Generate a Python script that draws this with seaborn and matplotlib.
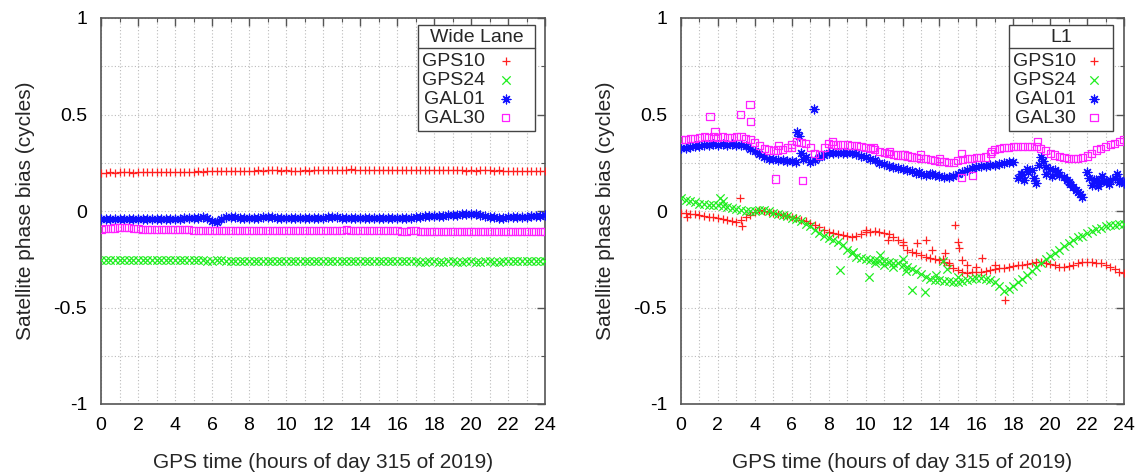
import numpy as np
import pandas as pd
import matplotlib
matplotlib.use("Agg")
import matplotlib.pyplot as plt
from matplotlib.lines import Line2D
from matplotlib.ticker import MultipleLocator, FuncFormatter
import seaborn as sns

# epochs every 15 minutes over day 315
hours = np.arange(0, 24.01, 0.25)

sats = ["GPS10", "GPS24", "GAL01", "GAL30"]

# ---------------- Wide Lane biases (cycles) ----------------
gps10_wl = [0.198, 0.199, 0.200, 0.199, 0.200, 0.201, 0.200, 0.199, 0.200, 0.201, 0.202, 0.201, 0.200, 0.201, 0.202, 0.203,
            0.202, 0.203, 0.204, 0.203, 0.204, 0.205, 0.204, 0.205, 0.206, 0.205, 0.206, 0.207, 0.206, 0.207, 0.208, 0.207,
            0.208, 0.209, 0.210, 0.209, 0.210, 0.211, 0.210, 0.209, 0.210, 0.209, 0.208, 0.209, 0.210, 0.209, 0.210, 0.211,
            0.212, 0.213, 0.214, 0.215, 0.214, 0.215, 0.216, 0.215, 0.214, 0.215, 0.214, 0.213, 0.214, 0.213, 0.212, 0.213,
            0.212, 0.213, 0.212, 0.211, 0.212, 0.211, 0.212, 0.213, 0.212, 0.211, 0.210, 0.211, 0.210, 0.211, 0.210, 0.209,
            0.210, 0.209, 0.210, 0.211, 0.210, 0.209, 0.210, 0.209, 0.208, 0.209, 0.208, 0.209, 0.208, 0.207, 0.208, 0.207, 0.208]
gps24_wl = [-0.255, -0.254, -0.253, -0.253, -0.252, -0.252, -0.253, -0.253, -0.254, -0.254, -0.253, -0.253, -0.254, -0.254, -0.255, -0.255,
            -0.255, -0.256, -0.256, -0.255, -0.255, -0.256, -0.256, -0.257, -0.257, -0.256, -0.256, -0.257, -0.257, -0.258, -0.258, -0.257,
            -0.257, -0.258, -0.258, -0.257, -0.257, -0.258, -0.258, -0.259, -0.259, -0.258, -0.258, -0.259, -0.259, -0.258, -0.258, -0.259,
            -0.259, -0.258, -0.258, -0.259, -0.259, -0.260, -0.260, -0.259, -0.259, -0.260, -0.260, -0.261, -0.261, -0.260, -0.260, -0.261,
            -0.261, -0.260, -0.260, -0.261, -0.261, -0.262, -0.262, -0.261, -0.261, -0.262, -0.262, -0.261, -0.261, -0.262, -0.262, -0.261,
            -0.261, -0.262, -0.262, -0.261, -0.261, -0.262, -0.262, -0.261, -0.261, -0.260, -0.260, -0.261, -0.261, -0.260, -0.260, -0.261, -0.261]
gal01_wl = [-0.040, -0.041, -0.042, -0.042, -0.043, -0.043, -0.044, -0.043, -0.043, -0.042, -0.042, -0.041, -0.041, -0.040, -0.040, -0.040,
            -0.040, -0.039, -0.038, -0.037, -0.036, -0.035, -0.032, -0.034, -0.050, -0.056, -0.042, -0.032, -0.031, -0.033, -0.034, -0.035,
            -0.036, -0.035, -0.034, -0.033, -0.032, -0.033, -0.034, -0.035, -0.036, -0.037, -0.038, -0.038, -0.037, -0.036, -0.035, -0.035,
            -0.034, -0.033, -0.032, -0.033, -0.034, -0.035, -0.036, -0.036, -0.037, -0.037, -0.036, -0.036, -0.037, -0.038, -0.038, -0.038,
            -0.038, -0.037, -0.036, -0.035, -0.032, -0.030, -0.028, -0.027, -0.026, -0.025, -0.024, -0.022, -0.021, -0.020, -0.018, -0.017,
            -0.016, -0.018, -0.021, -0.026, -0.030, -0.033, -0.034, -0.034, -0.033, -0.032, -0.033, -0.032, -0.030, -0.028, -0.026, -0.024, -0.022]
gal30_wl = [-0.095, -0.093, -0.090, -0.088, -0.086, -0.085, -0.087, -0.090, -0.093, -0.095, -0.096, -0.097, -0.098, -0.098, -0.097, -0.096,
            -0.095, -0.096, -0.097, -0.098, -0.099, -0.100, -0.101, -0.102, -0.102, -0.101, -0.100, -0.100, -0.101, -0.101, -0.100, -0.100,
            -0.101, -0.101, -0.102, -0.102, -0.101, -0.101, -0.100, -0.100, -0.101, -0.102, -0.102, -0.101, -0.100, -0.100, -0.101, -0.101,
            -0.102, -0.102, -0.101, -0.100, -0.099, -0.098, -0.099, -0.100, -0.101, -0.102, -0.102, -0.103, -0.103, -0.102, -0.102, -0.103,
            -0.103, -0.104, -0.104, -0.103, -0.103, -0.104, -0.104, -0.105, -0.105, -0.104, -0.104, -0.105, -0.105, -0.106, -0.106, -0.105,
            -0.105, -0.106, -0.106, -0.107, -0.107, -0.108, -0.108, -0.107, -0.107, -0.108, -0.108, -0.107, -0.107, -0.108, -0.108, -0.107, -0.107]

# ---------------- L1 biases (cycles) ----------------
gps10_l1 = [-0.010, -0.012, -0.015, -0.018, -0.020, -0.025, -0.030, -0.030, -0.035, -0.040, -0.045, -0.050, -0.055, -0.045, -0.030, -0.020,
            -0.005, 0.005, 0.002, -0.005, -0.010, -0.015, -0.020, -0.025, -0.030, -0.038, -0.045, -0.050, -0.060, -0.072, -0.085, -0.098,
            -0.107, -0.112, -0.120, -0.125, -0.130, -0.133, -0.128, -0.120, -0.110, -0.107, -0.105, -0.107, -0.112, -0.120, -0.135, -0.150,
            -0.175, -0.200, -0.210, -0.220, -0.230, -0.237, -0.245, -0.250, -0.254, -0.265, -0.280, -0.295, -0.305, -0.314, -0.320, -0.318,
            -0.315, -0.314, -0.310, -0.305, -0.300, -0.297, -0.295, -0.290, -0.285, -0.282, -0.280, -0.275, -0.270, -0.265, -0.263, -0.268,
            -0.275, -0.282, -0.288, -0.290, -0.285, -0.278, -0.272, -0.266, -0.263, -0.265, -0.268, -0.272, -0.280, -0.290, -0.300, -0.314, -0.320]
gps24_l1 = [0.066, 0.058, 0.050, 0.045, 0.038, 0.034, 0.031, 0.030, 0.030, 0.026, 0.020, 0.014, 0.008, 0.004, 0.002, 0.000,
            0.000, 0.004, 0.003, -0.002, -0.010, -0.015, -0.020, -0.028, -0.035, -0.042, -0.050, -0.065, -0.080, -0.098, -0.115, -0.128,
            -0.140, -0.150, -0.160, -0.176, -0.200, -0.220, -0.240, -0.245, -0.250, -0.252, -0.255, -0.258, -0.260, -0.265, -0.268, -0.270,
            -0.280, -0.290, -0.300, -0.310, -0.325, -0.340, -0.350, -0.357, -0.360, -0.362, -0.365, -0.366, -0.366, -0.362, -0.358, -0.352,
            -0.348, -0.347, -0.352, -0.360, -0.370, -0.390, -0.415, -0.405, -0.390, -0.370, -0.350, -0.330, -0.310, -0.290, -0.270, -0.250,
            -0.235, -0.218, -0.200, -0.183, -0.165, -0.150, -0.137, -0.128, -0.115, -0.105, -0.095, -0.088, -0.080, -0.075, -0.070, -0.067, -0.065]
gal01_l1 = [0.325, 0.328, 0.330, 0.335, 0.338, 0.342, 0.340, 0.345, 0.343, 0.345, 0.342, 0.345, 0.343, 0.342, 0.335, 0.322,
            0.310, 0.295, 0.280, 0.272, 0.268, 0.265, 0.262, 0.260, 0.258, 0.255, 0.300, 0.280, 0.255, 0.265, 0.280, 0.290,
            0.300, 0.298, 0.300, 0.302, 0.300, 0.298, 0.295, 0.285, 0.278, 0.272, 0.262, 0.250, 0.242, 0.235, 0.228, 0.222,
            0.220, 0.215, 0.205, 0.198, 0.192, 0.187, 0.190, 0.185, 0.182, 0.178, 0.178, 0.180, 0.190, 0.200, 0.210, 0.222,
            0.230, 0.235, 0.235, 0.240, 0.240, 0.245, 0.248, 0.252, 0.255, 0.170, 0.190, 0.220, 0.210, 0.145, 0.280, 0.230,
            0.220, 0.210, 0.185, 0.175, 0.150, 0.126, 0.100, 0.074, 0.200, 0.135, 0.160, 0.150, 0.155, 0.160, 0.170, 0.150, 0.143]
gal30_l1 = [0.370, 0.372, 0.375, 0.378, 0.380, 0.385, 0.383, 0.385, 0.382, 0.384, 0.380, 0.382, 0.385, 0.384, 0.375, 0.370,
            0.355, 0.340, 0.325, 0.316, 0.315, 0.316, 0.320, 0.330, 0.345, 0.360, 0.355, 0.350, 0.330, 0.300, 0.290, 0.330,
            0.350, 0.345, 0.342, 0.345, 0.342, 0.340, 0.338, 0.335, 0.328, 0.325, 0.318, 0.310, 0.305, 0.300, 0.295, 0.290,
            0.290, 0.285, 0.280, 0.275, 0.272, 0.270, 0.265, 0.262, 0.258, 0.255, 0.250, 0.252, 0.260, 0.265, 0.270, 0.272,
            0.275, 0.278, 0.280, 0.300, 0.320, 0.326, 0.328, 0.330, 0.332, 0.333, 0.335, 0.334, 0.335, 0.333, 0.325, 0.312,
            0.300, 0.290, 0.282, 0.276, 0.273, 0.272, 0.273, 0.275, 0.285, 0.300, 0.316, 0.325, 0.335, 0.345, 0.352, 0.360, 0.370]

# scattered L1 epochs off the main track (hour, bias)
gps10_l1_extra_h = [0.3, 3.2, 3.3, 10.0, 11.2, 12.0, 12.77, 13.3, 13.6, 14.2, 14.3, 14.5, 14.85, 15.0, 15.06, 15.2, 15.5, 16.0, 16.3, 17.0, 17.55]
gps10_l1_extra_v = [-0.03, 0.065, -0.08, -0.10, -0.15, -0.16, -0.167, -0.15, -0.20, -0.25, -0.22, -0.27, -0.073, -0.159, -0.19, -0.254, -0.28, -0.29, -0.245, -0.28, -0.46]
gps24_l1_extra_h = [2.1, 2.3, 8.6, 9.3, 10.2, 10.5, 10.8, 11.0, 11.5, 12.0, 12.2, 12.5, 13.2, 13.8, 14.2, 14.4, 15.0]
gps24_l1_extra_v = [0.065, 0.05, -0.305, -0.21, -0.34, -0.27, -0.23, -0.28, -0.29, -0.25, -0.31, -0.41, -0.42, -0.33, -0.26, -0.30, -0.34]
gal01_l1_extra_h = [6.27, 6.4, 6.6, 7.2, 12.9, 13.6, 18.4, 18.6, 18.8, 19.1, 19.4, 19.6, 19.8, 20.1, 20.4, 20.9, 21.1, 21.4, 21.6,
                    22.1, 22.4, 22.6, 22.8, 23.2, 23.6, 23.8]
gal01_l1_extra_v = [0.41, 0.39, 0.27, 0.53, 0.20, 0.19, 0.19, 0.16, 0.20, 0.17, 0.24, 0.26, 0.19, 0.18, 0.20, 0.16, 0.14, 0.11, 0.09,
                    0.17, 0.16, 0.13, 0.18, 0.14, 0.19, 0.16]
gal30_l1_extra_h = [1.57, 1.84, 3.23, 3.74, 3.79, 5.1, 5.3, 6.0, 6.6, 8.2, 10.4, 11.3, 12.1, 13.0, 14.0, 15.2, 15.2, 15.8, 16.8, 19.18, 19.3]
gal30_l1_extra_v = [0.49, 0.41, 0.50, 0.55, 0.466, 0.166, 0.34, 0.33, 0.16, 0.36, 0.33, 0.31, 0.29, 0.29, 0.27, 0.175, 0.30, 0.186, 0.31, 0.45, 0.36]

colors = {"GPS10": "#ff2020", "GPS24": "#20ee20", "GAL01": "#1010ff", "GAL30": "#ff20ff"}
markers = {"GPS10": "+", "GPS24": "x", "GAL01": (8, 2, 0), "GAL30": "s"}


def make_frame(main, extra_h=None, extra_v=None):
    rows = []
    for s in sats:
        rows.append(pd.DataFrame({"hour": hours, "bias": main[s], "sat": s}))
        if extra_h is not None:
            rows.append(pd.DataFrame({"hour": extra_h[s], "bias": extra_v[s], "sat": s}))
    return pd.concat(rows, ignore_index=True)


df_wl = make_frame({"GPS10": gps10_wl, "GPS24": gps24_wl, "GAL01": gal01_wl, "GAL30": gal30_wl})
df_l1 = make_frame({"GPS10": gps10_l1, "GPS24": gps24_l1, "GAL01": gal01_l1, "GAL30": gal30_l1},
                   {"GPS10": gps10_l1_extra_h, "GPS24": gps24_l1_extra_h, "GAL01": gal01_l1_extra_h, "GAL30": gal30_l1_extra_h},
                   {"GPS10": gps10_l1_extra_v, "GPS24": gps24_l1_extra_v, "GAL01": gal01_l1_extra_v, "GAL30": gal30_l1_extra_v})

sns.set_style("white")
plt.rcParams['font.family'] = ['Liberation Sans', 'DejaVu Sans']

fig = plt.figure(figsize=(11.41, 4.74), dpi=100)
ax1 = fig.add_axes([101 / 1141, 1 - 404 / 474, 444 / 1141, 386 / 474])
ax2 = fig.add_axes([681 / 1141, 1 - 404 / 474, 443 / 1141, 386 / 474])

legends = []
panels = [(ax1, df_wl, "Wide Lane", 0.977, 2.6, -0.25), (ax2, df_l1, "L1", 0.975, 1.55, 0.15)]
for ax, df, title, anchor_x, hlen, hpad in panels:
    for s in sats:
        sub = df[df["sat"] == s]
        if s == "GAL30":
            sns.scatterplot(data=sub, x="hour", y="bias", marker="s", s=26, facecolors="none",
                            edgecolor=colors[s], linewidth=0.9, ax=ax, label=s, zorder=3)
        else:
            sns.scatterplot(data=sub, x="hour", y="bias", marker=markers[s], s=40 if s == "GAL01" else 36,
                            color=colors[s], linewidth=0.9, ax=ax, label=s, zorder=3)

    ax.set_xlim(0, 24)
    ax.set_ylim(-1, 1)
    ax.xaxis.set_major_locator(MultipleLocator(2))
    ax.xaxis.set_minor_locator(MultipleLocator(1))
    ax.yaxis.set_major_locator(MultipleLocator(0.5))
    ax.yaxis.set_minor_locator(MultipleLocator(0.25))
    ax.yaxis.set_major_formatter(FuncFormatter(lambda v, p: f"{v:g}"))
    ax.grid(True, which="both", linestyle=(0, (1, 2)), color="#bbbbbb", linewidth=0.8)
    ax.tick_params(which="both", direction="in", top=True, right=True, labelsize=14, colors="#555555",
                   labelcolor="black")
    ax.tick_params(which="major", length=6, width=1)
    ax.tick_params(axis="x", which="major", pad=9)
    ax.tick_params(axis="y", which="major", pad=10)
    ax.tick_params(which="minor", length=3, width=0.8)
    for sp in ax.spines.values():
        sp.set_color("#555555")
        sp.set_linewidth(1.2)
    ax.set_xlabel("GPS time (hours of day 315 of 2019)", fontsize=15, labelpad=14)
    ax.set_ylabel("Satellite phase bias (cycles)", fontsize=15, labelpad=13)

    leg = ax.legend(title=title, loc="upper right", bbox_to_anchor=(anchor_x, 0.982),
                    borderaxespad=0, markerfirst=False, frameon=True, fancybox=False, framealpha=1,
                    edgecolor="#444444", fontsize=14, title_fontsize=14, labelspacing=0.06,
                    handlelength=hlen, handletextpad=hpad, borderpad=0.2)
    leg.get_frame().set_linewidth(1.0)
    leg._legend_box.sep = 5  # room for the rule under the title
    legends.append(leg)

# line under the legend title, as in the gnuplot key
fig.canvas.draw()
r = fig.canvas.get_renderer()
inv = fig.transFigure.inverted()
for leg in legends:
    fb = leg.get_frame().get_window_extent(r)
    tb = leg.get_title().get_window_extent(r)
    y = tb.y0 - 2
    (x0, yy), (x1, _) = inv.transform([(fb.x0, y), (fb.x1, y)])
    fig.add_artist(Line2D([x0, x1], [yy, yy], color="#444444", linewidth=1.0, transform=fig.transFigure))

fig.savefig("out.png", dpi=100)
